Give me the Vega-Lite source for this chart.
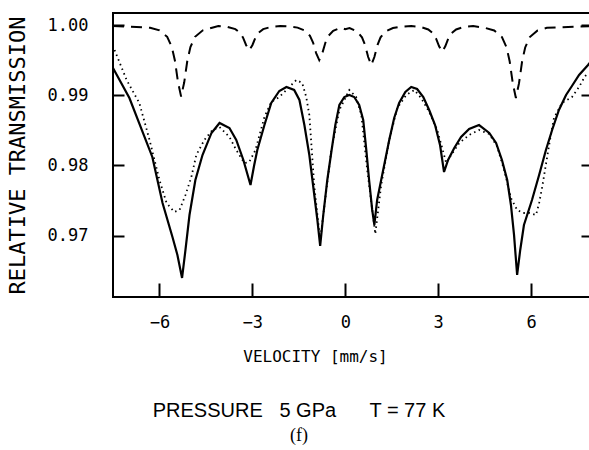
{
  "$schema": "https://vega.github.io/schema/vega-lite/v6.json",
  "width": 480,
  "height": 284,
  "autosize": {"type": "none"},
  "padding": {"left": 113, "top": 13, "right": 0, "bottom": 153},
  "background": "white",
  "config": {
    "view": {"stroke": "black", "strokeWidth": 2},
    "axis": {"grid": false, "domain": false, "tickColor": "black", "tickWidth": 2, "labelColor": "black", "titleColor": "black", "labelFont": "DejaVu Sans Mono", "titleFont": "DejaVu Sans Mono", "titleFontWeight": "normal"}
  },
  "title": {
    "text": "PRESSURE\u00a0\u00a0\u00a05 GPa\u00a0\u00a0\u00a0\u00a0\u00a0\u00a0T = 77 K",
    "subtitle": "(f)",
    "orient": "bottom",
    "anchor": "middle",
    "font": "Liberation Sans",
    "fontSize": 20,
    "fontWeight": "normal",
    "color": "black",
    "subtitleFont": "Liberation Serif",
    "subtitleFontSize": 18,
    "subtitleColor": "black",
    "subtitlePadding": 6,
    "offset": 37,
    "dx": -54
  },
  "datasets": {
    "dashed": [
      {"v": -7.5, "t": 0.99985}, {"v": -6.3, "t": 0.99961}, {"v": -6.0, "t": 0.99924}, {"v": -5.75, "t": 0.99832}, {"v": -5.6, "t": 0.99686}, {"v": -5.5, "t": 0.9949}, {"v": -5.4, "t": 0.99184}, {"v": -5.3, "t": 0.9898}, {"v": -5.2, "t": 0.99184}, {"v": -5.1, "t": 0.9949}, {"v": -5.0, "t": 0.99686}, {"v": -4.85, "t": 0.99832}, {"v": -4.6, "t": 0.99924}, {"v": -4.3, "t": 0.99961},
      {"v": -4.1, "t": 0.99986}, {"v": -3.8, "t": 0.99973}, {"v": -3.55, "t": 0.99941}, {"v": -3.4, "t": 0.99889}, {"v": -3.3, "t": 0.9982}, {"v": -3.2, "t": 0.99712}, {"v": -3.1, "t": 0.9964}, {"v": -3.0, "t": 0.99712}, {"v": -2.9, "t": 0.9982}, {"v": -2.8, "t": 0.99889}, {"v": -2.65, "t": 0.99941}, {"v": -2.4, "t": 0.99973}, {"v": -2.1, "t": 0.99986},
      {"v": -1.84, "t": 0.99981}, {"v": -1.54, "t": 0.99963}, {"v": -1.29, "t": 0.99918}, {"v": -1.14, "t": 0.99846}, {"v": -1.04, "t": 0.9975}, {"v": -0.94, "t": 0.996}, {"v": -0.84, "t": 0.995}, {"v": -0.74, "t": 0.996}, {"v": -0.64, "t": 0.9975}, {"v": -0.54, "t": 0.99846}, {"v": -0.39, "t": 0.99918}, {"v": -0.14, "t": 0.99963}, {"v": 0.0, "t": 0.9994},
      {"v": 0.14, "t": 0.99957}, {"v": 0.39, "t": 0.99906}, {"v": 0.54, "t": 0.99824}, {"v": 0.64, "t": 0.99715}, {"v": 0.74, "t": 0.99544}, {"v": 0.84, "t": 0.9943}, {"v": 0.94, "t": 0.99544}, {"v": 1.04, "t": 0.99715}, {"v": 1.14, "t": 0.99824}, {"v": 1.29, "t": 0.99906}, {"v": 1.54, "t": 0.99957}, {"v": 1.84, "t": 0.99978},
      {"v": 2.13, "t": 0.99986}, {"v": 2.43, "t": 0.99972}, {"v": 2.68, "t": 0.99937}, {"v": 2.83, "t": 0.99883}, {"v": 2.93, "t": 0.9981}, {"v": 3.03, "t": 0.99696}, {"v": 3.13, "t": 0.9962}, {"v": 3.23, "t": 0.99696}, {"v": 3.33, "t": 0.9981}, {"v": 3.43, "t": 0.99883}, {"v": 3.58, "t": 0.99937}, {"v": 3.83, "t": 0.99972}, {"v": 4.13, "t": 0.99986},
      {"v": 4.51, "t": 0.9996}, {"v": 4.81, "t": 0.99922}, {"v": 5.06, "t": 0.99828}, {"v": 5.21, "t": 0.9968}, {"v": 5.31, "t": 0.9948}, {"v": 5.41, "t": 0.99168}, {"v": 5.51, "t": 0.9896}, {"v": 5.61, "t": 0.99168}, {"v": 5.71, "t": 0.9948}, {"v": 5.81, "t": 0.9968}, {"v": 5.96, "t": 0.99828}, {"v": 6.21, "t": 0.99922}, {"v": 6.51, "t": 0.9996}, {"v": 8.0, "t": 0.99985}
    ],
    "dotted": [
      {"v": -7.45, "t": 0.99644}, {"v": -7.06, "t": 0.99217}, {"v": -6.65, "t": 0.98889}, {"v": -6.32, "t": 0.98362}, {"v": -6.0, "t": 0.97792}, {"v": -5.77, "t": 0.97464}, {"v": -5.52, "t": 0.97336}, {"v": -5.35, "t": 0.97365}, {"v": -5.16, "t": 0.97578}, {"v": -4.97, "t": 0.97835}, {"v": -4.81, "t": 0.98148}, {"v": -4.55, "t": 0.98362}, {"v": -4.29, "t": 0.98504}, {"v": -4.06, "t": 0.98547}, {"v": -3.74, "t": 0.98405}, {"v": -3.52, "t": 0.98219}, {"v": -3.26, "t": 0.98034}, {"v": -3.1, "t": 0.98048}, {"v": -2.9, "t": 0.98219}, {"v": -2.61, "t": 0.98689}, {"v": -2.39, "t": 0.98903}, {"v": -2.13, "t": 0.98974}, {"v": -1.87, "t": 0.99088}, {"v": -1.58, "t": 0.99217}, {"v": -1.39, "t": 0.99174}, {"v": -1.26, "t": 0.98974}, {"v": -1.16, "t": 0.98718}, {"v": -1.0, "t": 0.977}, {"v": -0.81, "t": 0.96937}, {"v": -0.65, "t": 0.97507}, {"v": -0.45, "t": 0.98219}, {"v": -0.19, "t": 0.98789}, {"v": 0.13, "t": 0.99074}, {"v": 0.35, "t": 0.98974}, {"v": 0.52, "t": 0.98718}, {"v": 0.71, "t": 0.97934}, {"v": 0.97, "t": 0.97023}, {"v": 1.16, "t": 0.97721}, {"v": 1.42, "t": 0.98362}, {"v": 1.68, "t": 0.98818}, {"v": 1.97, "t": 0.99003}, {"v": 2.23, "t": 0.99074}, {"v": 2.45, "t": 0.9896}, {"v": 2.71, "t": 0.98761}, {"v": 2.97, "t": 0.98504}, {"v": 3.13, "t": 0.98248}, {"v": 3.26, "t": 0.98034}, {"v": 3.42, "t": 0.98148}, {"v": 3.68, "t": 0.98319}, {"v": 4.0, "t": 0.98433}, {"v": 4.32, "t": 0.98504}, {"v": 4.65, "t": 0.98447}, {"v": 4.9, "t": 0.98276}, {"v": 5.13, "t": 0.97934}, {"v": 5.35, "t": 0.97536}, {"v": 5.55, "t": 0.97365}, {"v": 5.74, "t": 0.97322}, {"v": 5.94, "t": 0.97322}, {"v": 6.16, "t": 0.97293}, {"v": 6.26, "t": 0.97464}, {"v": 6.36, "t": 0.97692}, {"v": 6.45, "t": 0.97934}, {"v": 6.61, "t": 0.98362}, {"v": 6.74, "t": 0.98675}, {"v": 7.0, "t": 0.98889}, {"v": 7.32, "t": 0.98974}, {"v": 7.55, "t": 0.99117}, {"v": 7.71, "t": 0.99245}, {"v": 7.84, "t": 0.9933}
    ],
    "fit": [
      {"v": -7.5, "t": 0.99387}, {"v": -6.97, "t": 0.9896}, {"v": -6.23, "t": 0.9812}, {"v": -5.9, "t": 0.97464}, {"v": -5.58, "t": 0.9698}, {"v": -5.42, "t": 0.96724}, {"v": -5.27, "t": 0.96396}, {"v": -5.16, "t": 0.96795}, {"v": -5.03, "t": 0.97293}, {"v": -4.84, "t": 0.97792}, {"v": -4.61, "t": 0.98148}, {"v": -4.32, "t": 0.98462}, {"v": -4.06, "t": 0.98604}, {"v": -3.74, "t": 0.98533}, {"v": -3.52, "t": 0.98362}, {"v": -3.29, "t": 0.98077}, {"v": -3.06, "t": 0.97721}, {"v": -2.94, "t": 0.98006}, {"v": -2.84, "t": 0.98219}, {"v": -2.61, "t": 0.98575}, {"v": -2.39, "t": 0.98889}, {"v": -2.13, "t": 0.9906}, {"v": -1.9, "t": 0.99117}, {"v": -1.65, "t": 0.99074}, {"v": -1.48, "t": 0.98932}, {"v": -1.32, "t": 0.98575}, {"v": -1.16, "t": 0.98148}, {"v": -1.0, "t": 0.97578}, {"v": -0.9, "t": 0.97222}, {"v": -0.81, "t": 0.96852}, {"v": -0.71, "t": 0.97293}, {"v": -0.58, "t": 0.97792}, {"v": -0.45, "t": 0.98191}, {"v": -0.32, "t": 0.98575}, {"v": -0.19, "t": 0.9886}, {"v": -0.03, "t": 0.98974}, {"v": 0.13, "t": 0.99003}, {"v": 0.29, "t": 0.98974}, {"v": 0.45, "t": 0.9886}, {"v": 0.58, "t": 0.98647}, {"v": 0.68, "t": 0.98219}, {"v": 0.77, "t": 0.97792}, {"v": 0.87, "t": 0.97365}, {"v": 0.94, "t": 0.97151}, {"v": 1.03, "t": 0.97507}, {"v": 1.16, "t": 0.97792}, {"v": 1.29, "t": 0.98077}, {"v": 1.42, "t": 0.98362}, {"v": 1.58, "t": 0.98675}, {"v": 1.74, "t": 0.98889}, {"v": 1.94, "t": 0.99046}, {"v": 2.13, "t": 0.99117}, {"v": 2.32, "t": 0.99088}, {"v": 2.52, "t": 0.98974}, {"v": 2.71, "t": 0.98789}, {"v": 2.9, "t": 0.98575}, {"v": 3.06, "t": 0.98291}, {"v": 3.19, "t": 0.97906}, {"v": 3.32, "t": 0.98077}, {"v": 3.52, "t": 0.98248}, {"v": 3.74, "t": 0.98405}, {"v": 4.0, "t": 0.98519}, {"v": 4.32, "t": 0.98575}, {"v": 4.65, "t": 0.98462}, {"v": 4.87, "t": 0.98319}, {"v": 5.06, "t": 0.98077}, {"v": 5.23, "t": 0.97792}, {"v": 5.35, "t": 0.97436}, {"v": 5.45, "t": 0.97009}, {"v": 5.55, "t": 0.96439}, {"v": 5.65, "t": 0.96795}, {"v": 5.77, "t": 0.97151}, {"v": 6.03, "t": 0.97507}, {"v": 6.26, "t": 0.97863}, {"v": 6.48, "t": 0.98219}, {"v": 6.68, "t": 0.98504}, {"v": 6.9, "t": 0.98789}, {"v": 7.13, "t": 0.99003}, {"v": 7.32, "t": 0.99131}, {"v": 7.55, "t": 0.99288}, {"v": 7.84, "t": 0.9943}, {"v": 8.0, "t": 0.9952}
    ]
  },
  "resolve": {"axis": {"y": "independent"}},
  "layer": [
    {
      "data": {"name": "dashed"},
      "mark": {"type": "line", "color": "black", "strokeWidth": 2, "strokeDash": [11, 7]},
      "encoding": {
        "x": {"field": "v", "type": "quantitative", "scale": {"domain": [-7.5, 8.0], "nice": false, "zero": false},
          "axis": {"values": [-6, -3, 0, 3, 6], "tickSize": -14, "labelFontSize": 17, "labelPadding": 31, "title": "VELOCITY [mm/s]", "titleFontSize": 16, "titlePadding": 18, "titleX": 202, "titleAlign": "center"}},
        "y": {"field": "t", "type": "quantitative", "scale": {"domain": [0.96125, 1.00171], "nice": false, "zero": false},
          "axis": {"values": [0.97, 0.98, 0.99, 1.0], "format": ".2f", "tickSize": -11, "labelFontSize": 17, "labelPadding": 36, "title": "RELATIVE TRANSMISSION", "titleFontSize": 22, "titlePadding": 18}}
      }
    },
    {
      "data": {"name": "dotted"},
      "mark": {"type": "line", "color": "black", "strokeWidth": 1.8, "strokeDash": [1.5, 3.5]},
      "encoding": {
        "x": {"field": "v", "type": "quantitative"},
        "y": {"field": "t", "type": "quantitative",
          "axis": {"orient": "right", "values": [0.97, 0.98, 0.99, 1.0], "tickSize": -12, "labels": false, "title": null}}
      }
    },
    {
      "data": {"name": "fit"},
      "mark": {"type": "line", "color": "black", "strokeWidth": 2.2},
      "encoding": {
        "x": {"field": "v", "type": "quantitative"},
        "y": {"field": "t", "type": "quantitative", "axis": null}
      }
    }
  ]
}
